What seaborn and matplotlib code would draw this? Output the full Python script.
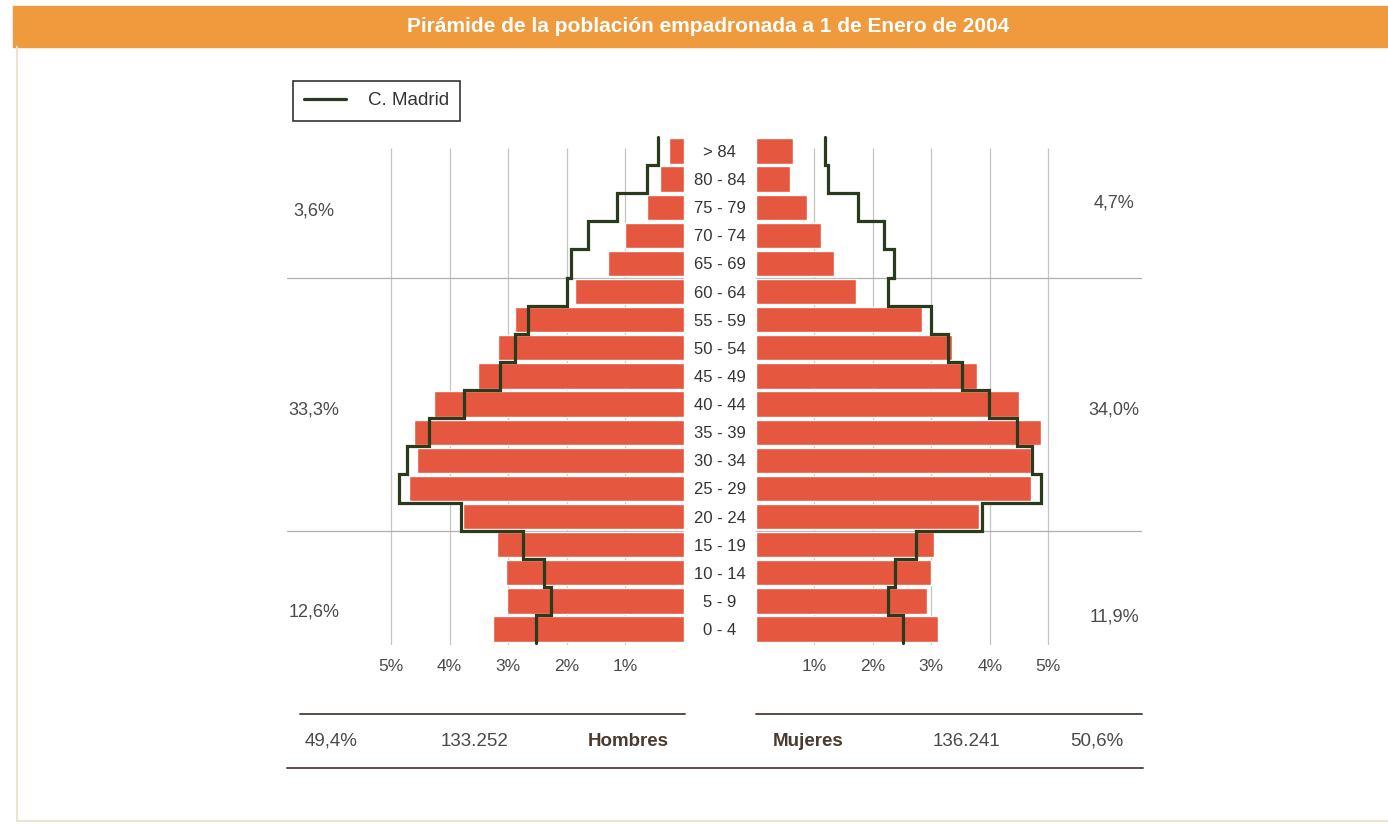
import numpy as np
import matplotlib
matplotlib.use("Agg")
import matplotlib.pyplot as plt
from matplotlib.patches import Rectangle
from matplotlib.lines import Line2D
import pandas as pd
import seaborn as sns

# Data (percent of total population), top row first
edades = ['> 84', '80 - 84', '75 - 79', '70 - 74', '65 - 69', '60 - 64',
          '55 - 59', '50 - 54', '45 - 49', '40 - 44', '35 - 39', '30 - 34',
          '25 - 29', '20 - 24', '15 - 19', '10 - 14', '5 - 9', '0 - 4']
hombres = [0.24, 0.40, 0.62, 1.00, 1.29, 1.85, 2.88, 3.17, 3.52, 4.26,
           4.60, 4.56, 4.70, 3.77, 3.19, 3.03, 3.02, 3.26]
mujeres = [0.63, 0.59, 0.87, 1.12, 1.33, 1.71, 2.84, 3.35, 3.78, 4.50,
           4.88, 4.70, 4.71, 3.82, 3.05, 2.99, 2.92, 3.11]
madrid_h = [0.43, 0.63, 1.13, 1.64, 1.93, 1.99, 2.65, 2.88, 3.14, 3.75,
            4.35, 4.72, 4.86, 3.80, 2.75, 2.38, 2.27, 2.52]
madrid_m = [1.18, 1.24, 1.75, 2.19, 2.36, 2.26, 3.00, 3.28, 3.52, 3.99,
            4.47, 4.73, 4.88, 3.87, 2.74, 2.38, 2.27, 2.51]
ticks = [1, 2, 3, 4, 5]
grupos_h = ['3,6%', '33,3%', '12,6%']
grupos_m = ['4,7%', '34,0%', '11,9%']
total_h = ['49,4%', '133.252', 'Hombres']
total_m = ['Mujeres', '136.241', '50,6%']
titulo = 'Pirámide de la población empadronada a 1 de Enero de 2004'

df = pd.DataFrame({'edad': edades, 'hombres': hombres, 'mujeres': mujeres})

BAR = '#E5573F'
LINE = '#2A3A1C'
ORANGE = '#F09A3E'
GRID = '#C4C4C4'
TXT = '#4a4a4a'

sns.set_theme(style='white')
plt.rcParams['font.family'] = ['Liberation Sans', 'DejaVu Sans']

W, H = 1388, 824
fig = plt.figure(figsize=(W / 100, H / 100), dpi=100)


def fx(x):
    return x / W


def fy(y):
    return 1 - y / H


top, bottom = 135, 645
pitch = 28.12
row0 = 151
ylim = ((bottom - row0) / pitch, (top - row0) / pitch)
scale = 58.5  # px per 1 %

zl, zr = 683.5, 755.7
axL = fig.add_axes([fx(287), fy(bottom), fx(zl - 287), (bottom - top) / H])
axR = fig.add_axes([fx(zr), fy(bottom), fx(1142 - zr), (bottom - top) / H])

sns.barplot(data=df, y='edad', x='hombres', orient='h', color=BAR,
            saturation=1, width=0.9, ax=axL, zorder=2)
sns.barplot(data=df, y='edad', x='mujeres', orient='h', color=BAR,
            saturation=1, width=0.9, ax=axR, zorder=2)

axL.set_xlim((zl - 287) / scale, 0)
axR.set_xlim(0, (1142 - zr) / scale)

grid_top = (148 - row0) / pitch
for ax, madrid in ((axL, madrid_h), (axR, madrid_m)):
    ax.set_ylim(*ylim)
    ax.vlines(ticks, grid_top, ylim[0], color=GRID, lw=0.9, zorder=0)
    ax.axhline(4.5, color='#AFAFAF', lw=0.9, zorder=0)
    ax.axhline(13.5, color='#AFAFAF', lw=0.9, zorder=0)
    pos = np.arange(len(madrid))
    ys = np.column_stack([pos - 0.5, pos + 0.5]).ravel()
    xs = np.repeat(madrid, 2)
    ax.plot(xs, ys, color=LINE, lw=2.3, zorder=3, clip_on=False,
            solid_joinstyle='miter', label='C. Madrid')
    ax.set_xticks(ticks)
    ax.set_xticklabels([f'{t}%' for t in ticks])
    ax.tick_params(axis='x', length=0, pad=10, labelsize=12.5, labelcolor=TXT)
    ax.set_xlabel('')
    ax.set_ylabel('')
    for s in ax.spines.values():
        s.set_visible(False)
    ax.set_facecolor('none')

axL.set_yticks([])
axR.tick_params(axis='y', length=0, pad=26, labelsize=12, labelcolor='#333333')
for t in axR.get_yticklabels():
    t.set_ha('center')

# header
fig.patches.append(Rectangle((fx(13), fy(47)), 1 - fx(13), (47 - 6) / H,
                             transform=fig.transFigure, color=ORANGE, zorder=0))
fig.text(fx(708), fy(27), titulo, color='white', fontsize=15, fontweight='bold',
         ha='center', va='center',
         family=['Liberation Sans Narrow', 'Liberation Sans', 'DejaVu Sans'])

# page frame
fig.add_artist(Line2D([fx(17), fx(17)], [fy(47), fy(821)], color='#F0E2CF', lw=1.5))
fig.add_artist(Line2D([fx(17), 1], [fy(821), fy(821)], color='#F0E2CF', lw=1.5))

# legend
handles, labels = axL.get_legend_handles_labels()
fig.legend(handles, labels, loc='upper left', bbox_to_anchor=(fx(293), fy(81)),
           frameon=True, fancybox=False, edgecolor='#222222', fontsize=13.5,
           handlelength=2.2, handletextpad=1.2, borderpad=0.6,
           borderaxespad=0, labelcolor='#333333', framealpha=1)
fig.legends[0].get_frame().set_linewidth(1.1)

# group shares
for y, s in zip((211, 410, 612), grupos_h):
    fig.text(fx(314), fy(y), s, ha='center', va='center', fontsize=13, color=TXT)
for y, s in zip((203, 410, 617), grupos_m):
    fig.text(fx(1114), fy(y), s, ha='center', va='center', fontsize=13, color=TXT)

# totals
LC = '#5b4a44'
fig.add_artist(Line2D([fx(300), fx(685)], [fy(714), fy(714)], color=LC, lw=1.4))
fig.add_artist(Line2D([fx(756), fx(1142)], [fy(714), fy(714)], color=LC, lw=1.4))
fig.add_artist(Line2D([fx(287), fx(1143)], [fy(768), fy(768)], color=LC, lw=1.4))
for x, s in zip((331, 475, 628), total_h):
    bold = s == 'Hombres'
    fig.text(fx(x), fy(741), s, ha='center', va='center', fontsize=13.5,
             color='#4b3a30' if bold else TXT, fontweight='bold' if bold else 'normal')
for x, s in zip((808, 967, 1097), total_m):
    bold = s == 'Mujeres'
    fig.text(fx(x), fy(741), s, ha='center', va='center', fontsize=13.5,
             color='#4b3a30' if bold else TXT, fontweight='bold' if bold else 'normal')

fig.savefig('out.png', dpi=100, facecolor='white')
